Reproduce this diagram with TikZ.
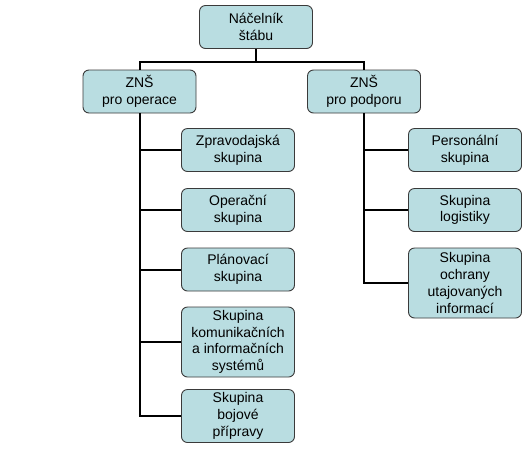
\documentclass[tikz,border=0pt]{standalone}
\usepackage{fontspec}
\setmainfont{Liberation Sans}
\usepackage{xcolor}
\usetikzlibrary{positioning,calc}
\definecolor{boxfill}{HTML}{B9DDE1}
\definecolor{boxline}{HTML}{3A3A3A}

\begin{document}
\begin{tikzpicture}[x=1pt,y=-1pt,
  unit/.style={draw=boxline,fill=boxfill,rounded corners=6pt,line width=0.9pt,
               minimum width=113pt,minimum height=43pt,inner sep=1pt,align=center,
               font=\fontsize{14}{16.7}\selectfont},
  conn/.style={draw=black,line width=2pt}
]
\useasboundingbox[fill=white] (0,0) rectangle (526,456);
\node[unit] (nac) at (256,27) {Náčelník\\štábu};
\node[unit] (zo) at (139.5,91.5) {ZNŠ\\pro operace};
\node[unit] (zp) at (364,91.5) {ZNŠ\\pro podporu};
\node[unit] (zpr) at (238,150) {Zpravodajská\\skupina};
\node[unit] (ops) at (238,210) {Operační\\skupina};
\node[unit] (pla) at (238,269.5) {Plánovací\\skupina};
\node[unit,minimum height=70pt] (kis) at (238,342) {Skupina\\komunikačních\\a informačních\\systémů};
\node[unit,minimum height=53pt] (boj) at (238,416) {Skupina\\bojové\\přípravy};
\node[unit] (per) at (465,150) {Personální\\skupina};
\node[unit] (log) at (465,210) {Skupina\\logistiky};
\node[unit,minimum height=70pt] (och) at (465,283) {Skupina\\ochrany\\utajovaných\\informací};
\coordinate (bus) at (256,62);
\draw[conn] (nac.south) -- (bus) -| (zo.north);
\draw[conn] (bus) -| (zp.north);
\draw[conn] (zo.south) |- (zpr.west);
\draw[conn] (zo.south) |- (ops.west);
\draw[conn] (zo.south) |- (pla.west);
\draw[conn] (zo.south) |- (kis.west);
\draw[conn] (zo.south) |- (boj.west);
\draw[conn] (zp.south) |- (per.west);
\draw[conn] (zp.south) |- (log.west);
\draw[conn] (zp.south) |- (och.west);
\end{tikzpicture}
\end{document}
